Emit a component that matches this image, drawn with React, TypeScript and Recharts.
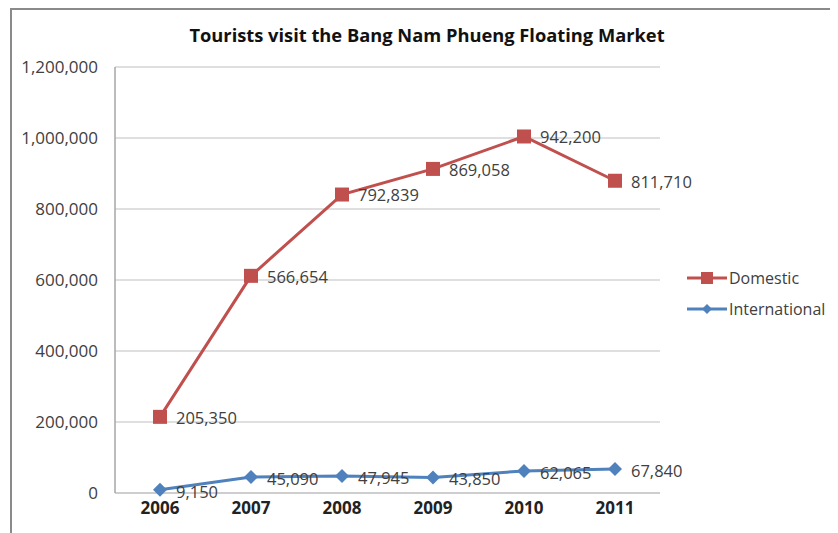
import React from 'react';
import { ComposedChart, Area, XAxis, YAxis, CartesianGrid, LabelList, Legend } from 'recharts';

const years = ['2006', '2007', '2008', '2009', '2010', '2011'];
const domestic = [205350, 566654, 792839, 869058, 942200, 811710];
const international = [9150, 45090, 47945, 43850, 62065, 67840];
const yTicks = [0, 200000, 400000, 600000, 800000, 1000000, 1200000];

const RED = '#C0504D';
const BLUE = '#4F81BD';
const FONT = '"Open Sans", sans-serif';

const data = years.map((y, i) => ({ year: y, domestic: domestic[i], international: international[i] }));

const fmt = (v: number) => v.toLocaleString('en-US');

const SquareDot = (props: any) => {
  const { cx, cy, index } = props;
  if (cx == null || cy == null) return <g key={`sq-${index}`} />;
  return <rect key={`sq-${index}`} x={cx - 7} y={cy - 7} width={14} height={14} fill={RED} />;
};

const DiamondDot = (props: any) => {
  const { cx, cy, index } = props;
  if (cx == null || cy == null) return <g key={`dm-${index}`} />;
  return (
    <path
      key={`dm-${index}`}
      d={`M${cx},${cy - 7} L${cx + 7},${cy} L${cx},${cy + 7} L${cx - 7},${cy} Z`}
      fill={BLUE}
    />
  );
};

const makeLabel = (dyPx: number) => (props: any) => {
  const { x, y, value } = props;
  return (
    <text x={x + 16} y={y + dyPx} dy="0.35em" fontSize={16.5} fontFamily={FONT} fill="#404040" textAnchor="start">
      {fmt(Number(value))}
    </text>
  );
};

const LegendContent = () => (
  <div style={{ fontFamily: FONT, fontSize: 16, color: '#404040' }}>
    {[
      { name: 'Domestic', color: RED, shape: 'square' },
      { name: 'International', color: BLUE, shape: 'diamond' },
    ].map((it) => (
      <div key={it.name} style={{ display: 'flex', alignItems: 'center', height: 31 }}>
        <svg width={40} height={14} style={{ marginRight: 2 }}>
          <line x1={0} y1={7} x2={40} y2={7} stroke={it.color} strokeWidth={3} />
          {it.shape === 'square' ? (
            <rect x={14} y={1} width={12} height={12} fill={it.color} />
          ) : (
            <path d="M20,2 L25,7 L20,12 L15,7 Z" fill={it.color} />
          )}
        </svg>
        <span>{it.name}</span>
      </div>
    ))}
  </div>
);

export default function App() {
  return (
    <div style={{ position: 'relative', width: 830, height: 525, fontFamily: FONT }}>
      <div
        style={{
          position: 'absolute',
          left: 2,
          top: 0,
          width: 828,
          height: 525,
          borderLeft: '2px solid #8a8a8a',
          borderTop: '2px solid #8a8a8a',
          boxSizing: 'border-box',
        }}
      />
      <div
        style={{
          position: 'absolute',
          left: 0,
          top: 14,
          width: 838,
          textAlign: 'center',
          fontWeight: 700,
          fontSize: 18.3,
          color: '#111',
        }}
      >
        Tourists visit the Bang Nam Phueng Floating Market
      </div>
      <ComposedChart
        width={830}
        height={525}
        data={data}
        margin={{ top: 59, right: 178, left: 0, bottom: 0 }}
        style={{ position: 'absolute', left: 0, top: 0 }}
      >
        <CartesianGrid vertical={false} stroke="#d4d4d4" strokeWidth={1.5} />
        <XAxis
          dataKey="year"
          height={40}
          padding={{ left: 45, right: 45 }}
          tickLine={false}
          tickSize={0}
          tickMargin={9}
          axisLine={{ stroke: '#c8c8c8', strokeWidth: 1.5 }}
          tick={{ fontSize: 17, fontWeight: 700, fill: '#222', fontFamily: FONT }}
        />
        <YAxis
          width={107}
          domain={[0, 1200000]}
          ticks={yTicks}
          tickFormatter={fmt}
          tickLine={false}
          tickSize={0}
          tickMargin={17}
          axisLine={{ stroke: '#a6a6a6', strokeWidth: 1.5 }}
          tick={{ fontSize: 17, fill: '#404040', fontFamily: FONT }}
        />
        <Area
          type="linear"
          dataKey="international"
          name="International"
          stackId="1"
          stroke={BLUE}
          strokeWidth={3}
          fill="none"
          fillOpacity={0}
          dot={DiamondDot}
          activeDot={false}
          isAnimationActive={false}
        >
          <LabelList dataKey="international" content={makeLabel(2)} />
        </Area>
        <Area
          type="linear"
          dataKey="domestic"
          name="Domestic"
          stackId="1"
          stroke={RED}
          strokeWidth={3}
          fill="none"
          fillOpacity={0}
          dot={SquareDot}
          activeDot={false}
          isAnimationActive={false}
        >
          <LabelList dataKey="domestic" content={makeLabel(1)} />
        </Area>
        <Legend
          layout="vertical"
          align="center"
          verticalAlign="middle"
          content={<LegendContent />}
          wrapperStyle={{ position: 'absolute', left: 679, top: 254, width: 150 }}
        />
      </ComposedChart>
    </div>
  );
}
